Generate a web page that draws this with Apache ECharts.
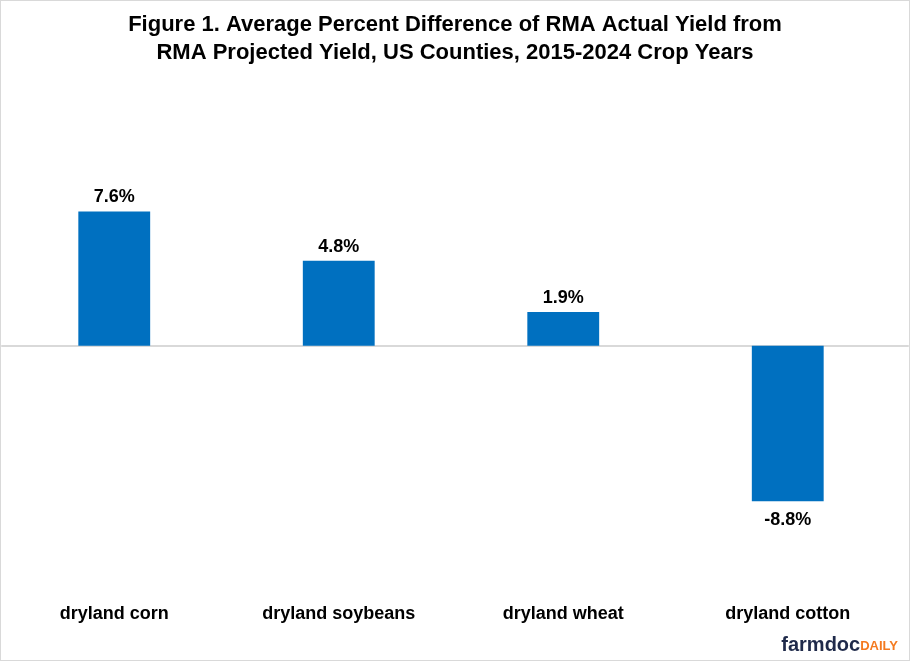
<!DOCTYPE html>
<html><head><meta charset="utf-8">
<script src="https://cdn.jsdelivr.net/npm/echarts@6/dist/echarts.min.js"></script>
<style>
html,body{margin:0;padding:0;background:#fff;}
#c{width:908px;height:659px;border:1px solid #d9d9d9;}
</style></head>
<body><div id="c"></div>
<script>
const categories = ['dryland corn','dryland soybeans','dryland wheat','dryland cotton'];
const values = [7.6, 4.8, 1.9, -8.8];
const titleLines = ['Figure 1. Average Percent Difference of RMA Actual Yield from','RMA Projected Yield, US Counties, 2015-2024 Crop Years'];

const chart = echarts.init(document.getElementById('c'));
chart.setOption({
  animation:false,
  backgroundColor:'#fff',
  title:{
    text: titleLines.join('\n'),
    left:'center', top:5,
    textStyle:{fontFamily:'Liberation Sans, Arial, sans-serif',fontWeight:'bold',fontSize:22,lineHeight:28,color:'#000'}
  },
  grid:[{left:1,right:9,top:168,bottom:67},{left:1,right:1,top:168,bottom:67}],
  xAxis:[{
    type:'category', data:categories, gridIndex:0,
    axisLine:{show:false}, axisTick:{show:false},
    axisLabel:{margin:12,color:'#000',fontSize:18,fontWeight:'bold',fontFamily:'Liberation Sans, Arial, sans-serif'}
  },{
    type:'category', data:categories, gridIndex:1,
    axisLine:{show:true,onZero:true,lineStyle:{color:'#d9d9d9',width:2}},
    axisTick:{show:false}, axisLabel:{show:false}
  }],
  yAxis:[
    {type:'value',min:-14,max:10,show:false,gridIndex:0,splitLine:{show:false}},
    {type:'value',min:-14,max:10,show:false,gridIndex:1,splitLine:{show:false}}
  ],
  series:[{
    type:'bar', xAxisIndex:0, yAxisIndex:0, barWidth:'32%', z:3,
    data: values.map(v=>({value:v,label:{distance: v<0 ? 10 : 5}})),
    itemStyle:{color:'#0070C0'},
    label:{show:true,position:'outside',formatter:p=>p.value.toFixed(1)+'%',color:'#000',fontSize:18,fontWeight:'bold',fontFamily:'Liberation Sans, Arial, sans-serif'}
  }],
  graphic:[{
    type:'text', right:11, bottom:5,
    style:{
      text:'{a|farmdoc}{b|DAILY}',
      rich:{
        a:{fontFamily:'Liberation Sans, Arial, sans-serif',fontWeight:'bold',fontSize:20,fill:'#1f2a4a'},
        b:{fontFamily:'Liberation Sans, Arial, sans-serif',fontWeight:'bold',fontSize:13,fill:'#f47a20',padding:[3,0,0,0]}
      }
    }
  }]
});
</script></body></html>
